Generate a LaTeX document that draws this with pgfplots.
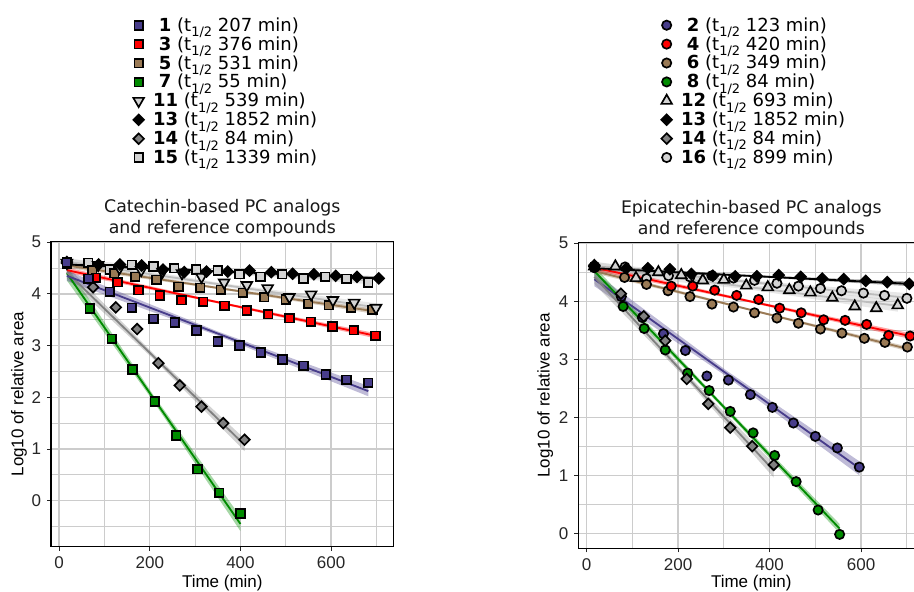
\documentclass[border=0pt]{standalone}
\usepackage{fontspec}
\setmainfont{DejaVu Sans}
\newfontfamily\arialf{Liberation Sans}
\usepackage{pgfplots}
\pgfplotsset{compat=1.18}
\definecolor{cpur}{HTML}{483D8B}
\definecolor{cred}{HTML}{FF0000}
\definecolor{cbrn}{HTML}{9A7A55}
\definecolor{cgrn}{HTML}{008B00}
\definecolor{cgry}{HTML}{808080}
\definecolor{clgt}{HTML}{D3D3D3}
\definecolor{clgl}{HTML}{BDBDBD}
\newcommand{\thalf}[1]{(t\raisebox{-0.3em}{\fontsize{7.8}{8}\selectfont 1/2}~#1~min)}
\newcommand{\one}{\hspace*{0.32em}}

\pgfplotsset{
  panel/.style={
    scale only axis, anchor=south west,
    xmin=-18, xmax=738,
    xtick={0,200,400,600}, minor xtick={100,300,500,700},
    grid=both,
    major grid style={black!20, line width=0.8pt},
    minor grid style={black!20, line width=0.6pt},
    minor tick length=0pt, major tick length=2.4pt,
    tick align=outside, tick pos=left,
    tick style={black!85, line width=0.6pt},
    axis line style={black, line width=0.7pt},
    ticklabel style={font=\arialf\fontsize{10.2}{12}\selectfont, text=black!85},
    /pgf/number format/assume math mode=true,
    label style={font=\arialf\fontsize{10.2}{12}\selectfont},
    xlabel={Time (min)}, ylabel={Log10 of relative area},
    title style={font=\fontsize{10.4}{13}\selectfont, align=center, text=black!90,
      at={(axis description cs:0.5,1)}, anchor=south, yshift=-3.6pt, inner sep=0pt},
    legend cell align=left,
    legend image code/.code={\draw[##1] plot coordinates {(0pt,0pt)};},
    legend style={draw=none, fill=none, inner sep=0pt, row sep=0pt,
      font=\fontsize{10.8}{12}\selectfont,
      nodes={inner sep=0pt, text height=9.2pt, text depth=2.14pt},
      /tikz/every odd column/.append style={column sep=5.5pt}},
  },
  sq/.style={only marks, mark=square*, mark size=2.6pt, mark options={draw=black, fill=#1, line width=1pt}},
  ci/.style={only marks, mark=*, mark size=2.8pt, mark options={draw=black, fill=#1, line width=1pt}},
  di/.style={only marks, mark=square*, mark size=2.25pt, mark options={draw=black, fill=#1, line width=1pt, rotate=45}},
  tu/.style={only marks, mark=triangle*, mark size=3.7pt, mark options={draw=black, fill=#1, line width=1pt}},
  td/.style={only marks, mark=triangle*, mark size=3.7pt, mark options={draw=black, fill=#1, line width=1pt, rotate=180}},
  fit/.style={draw=#1, line width=1.1pt, no marks},
  band/.style={fill=#1, fill opacity=0.35, draw=none, no marks},
}

\begin{document}
\begin{tikzpicture}
% ---------------- left panel: catechin ----------------
\begin{axis}[panel, at={(30.6pt,26.58pt)}, width=205.6pt, height=183pt,
  ymin=-0.89, ymax=5.01, ytick={0,1,2,3,4,5}, minor ytick={-0.5,0.5,1.5,2.5,3.5,4.5},
  title={Catechin-based PC analogs\\and reference compounds},
  xlabel style={at={(axis description cs:0.5,-0.118)}, anchor=center},
  ylabel style={at={(axis description cs:-0.0934,0.5)}, anchor=center},
  legend style={at={(0.2393,1.7415)}, anchor=north west}]
\addlegendimage{sq=cpur}\addlegendentry{\one\textbf{1} \thalf{207}}
\addlegendimage{sq=cred}\addlegendentry{\one\textbf{3} \thalf{376}}
\addlegendimage{sq=cbrn}\addlegendentry{\one\textbf{5} \thalf{531}}
\addlegendimage{sq=cgrn}\addlegendentry{\one\textbf{7} \thalf{55}}
\addlegendimage{td=clgt}\addlegendentry{\textbf{11} \thalf{539}}
\addlegendimage{di=black}\addlegendentry{\textbf{13} \thalf{1852}}
\addlegendimage{di=cgry}\addlegendentry{\textbf{14} \thalf{84}}
\addlegendimage{sq=clgt}\addlegendentry{\textbf{15} \thalf{1339}}
% confidence bands
\addplot[band=clgl, forget plot] coordinates {(17,4.67)(349.5,4.46)(682,4.33)(682,4.19)(349.5,4.40)(17,4.53)};
\addplot[band=clgl, forget plot] coordinates {(17,4.70)(358,4.21)(699,3.82)(699,3.66)(358,4.15)(17,4.54)};
\addplot[band=cbrn, forget plot] coordinates {(17,4.60)(354,4.13)(691,3.72)(691,3.62)(354,4.09)(17,4.50)};
\addplot[band=cred, forget plot] coordinates {(17,4.51)(357.5,3.845)(698,3.24)(698,3.14)(357.5,3.805)(17,4.41)};
\addplot[band=black, forget plot] coordinates {(17,4.61)(361,4.45)(705,4.34)(705,4.26)(361,4.42)(17,4.53)};
\addplot[band=cgrn, forget plot] coordinates {(17,4.54)(208.5,2.035)(400,-0.31)(400,-0.59)(208.5,1.915)(17,4.26)};
\addplot[band=cgry, forget plot] coordinates {(17,4.54)(213,2.80)(409,1.20)(409,0.96)(213,2.70)(17,4.30)};
\addplot[band=cpur, forget plot] coordinates {(17,4.45)(349.5,3.275)(682,2.22)(682,2.02)(349.5,3.195)(17,4.25)};
% fitted lines
\addplot[fit=clgl, forget plot] coordinates {(17,4.60)(682,4.26)};
\addplot[fit=clgl, forget plot] coordinates {(17,4.62)(699,3.74)};
\addplot[fit=cbrn, forget plot] coordinates {(17,4.55)(691,3.67)};
\addplot[fit=cred, forget plot] coordinates {(17,4.46)(698,3.19)};
\addplot[fit=black, forget plot] coordinates {(17,4.57)(705,4.30)};
\addplot[fit=cgrn, forget plot] coordinates {(17,4.40)(400,-0.45)};
\addplot[fit=cgry, forget plot] coordinates {(17,4.42)(409,1.08)};
\addplot[fit=cpur, forget plot] coordinates {(17,4.35)(682,2.12)};
% points
\addplot[sq=clgt, forget plot] coordinates {(17,4.6)(64,4.60)(112,4.47)(160,4.56)(208,4.53)(254,4.50)(302,4.47)(350,4.45)(398,4.38)(444,4.33)(492,4.38)(539,4.30)(587,4.33)(634,4.29)(682,4.22)};
\addplot[sq=cbrn, forget plot] coordinates {(17,4.58)(73,4.45)(121,4.40)(168,4.33)(215,4.27)(263,4.14)(311,4.12)(357,4.08)(405,4.02)(452,3.94)(500,3.89)(549,3.81)(595,3.78)(644,3.74)(691,3.69)};
\addplot[td=clgt, forget plot] coordinates {(17,4.6)(86,4.56)(133,4.50)(181,4.46)(228,4.43)(271,4.40)(314,4.33)(364,4.22)(414,4.17)(460,4.11)(508,3.94)(556,3.99)(604,3.88)(651,3.83)(699,3.73)};
\addplot[sq=cred, forget plot] coordinates {(17,4.58)(81,4.31)(129,4.23)(175,4.07)(222,3.97)(270,3.88)(318,3.85)(365,3.77)(414,3.68)(461,3.61)(508,3.53)(555,3.46)(603,3.37)(650,3.30)(698,3.19)};
\addplot[di=black, forget plot] coordinates {(17,4.62)(87,4.57)(134,4.57)(182,4.55)(229,4.47)(276,4.42)(325,4.43)(372,4.43)(420,4.45)(468,4.42)(515,4.39)(562,4.38)(610,4.35)(657,4.33)(705,4.30)};
\addplot[sq=cgrn, forget plot] coordinates {(17,4.6)(68,3.72)(116,3.13)(162,2.54)(211,1.92)(258,1.26)(305,0.61)(353,0.15)(400,-0.25)};
\addplot[di=cgry, forget plot] coordinates {(17,4.6)(75,4.13)(125,3.74)(172,3.32)(219,2.66)(266,2.23)(314,1.82)(362,1.50)(409,1.18)};
\addplot[sq=cpur, forget plot] coordinates {(17,4.61)(65,4.29)(112,4.04)(160,3.73)(208,3.52)(255,3.45)(303,3.29)(350,3.08)(398,3.00)(445,2.87)(493,2.73)(539,2.61)(588,2.44)(634,2.34)(682,2.28)};
\end{axis}
% ---------------- right panel: epicatechin ----------------
\begin{axis}[panel, at={(346.98pt,25.62pt)}, width=207.6pt, height=183.4pt,
  ymin=-0.26, ymax=5.01, ytick={0,1,2,3,4,5}, minor ytick={0.5,1.5,2.5,3.5,4.5},
  title={Epicatechin-based PC analogs\\and reference compounds},
  xlabel style={at={(axis description cs:0.5,-0.1126)}, anchor=center},
  ylabel style={at={(axis description cs:-0.0954,0.5)}, anchor=center},
  legend style={at={(0.239,1.7433)}, anchor=north west}]
\addlegendimage{ci=cpur}\addlegendentry{\one\textbf{2} \thalf{123}}
\addlegendimage{ci=cred}\addlegendentry{\one\textbf{4} \thalf{420}}
\addlegendimage{ci=cbrn}\addlegendentry{\one\textbf{6} \thalf{349}}
\addlegendimage{ci=cgrn}\addlegendentry{\one\textbf{8} \thalf{84}}
\addlegendimage{tu=clgt}\addlegendentry{\textbf{12} \thalf{693}}
\addlegendimage{di=black}\addlegendentry{\textbf{13} \thalf{1852}}
\addlegendimage{di=cgry}\addlegendentry{\textbf{14} \thalf{84}}
\addlegendimage{ci=clgt}\addlegendentry{\textbf{16} \thalf{899}}
% confidence bands
\addplot[band=clgl, forget plot] coordinates {(17,4.68)(358.5,4.36)(700,4.14)(700,3.98)(358.5,4.30)(17,4.52)};
\addplot[band=clgl, forget plot] coordinates {(17,4.68)(348.5,4.29)(680,4.02)(680,3.82)(348.5,4.21)(17,4.48)};
\addplot[band=cbrn, forget plot] coordinates {(17,4.56)(359,3.865)(701,3.22)(701,3.14)(359,3.835)(17,4.48)};
\addplot[band=cred, forget plot] coordinates {(17,4.63)(362,4.01)(707,3.45)(707,3.35)(362,3.97)(17,4.53)};
\addplot[band=cpur, forget plot] coordinates {(17,4.50)(306.5,2.80)(596,1.24)(596,1.00)(306.5,2.70)(17,4.26)};
\addplot[band=cgrn, forget plot] coordinates {(17,4.60)(285,2.335)(553,0.16)(553,0.00)(285,2.265)(17,4.44)};
\addplot[band=cgry, forget plot] coordinates {(17,4.54)(213,2.80)(409,1.20)(409,0.96)(213,2.70)(17,4.30)};
\addplot[band=black, forget plot] coordinates {(17,4.61)(361,4.45)(705,4.34)(705,4.26)(361,4.42)(17,4.53)};
% fitted lines
\addplot[fit=clgl, forget plot] coordinates {(17,4.60)(700,4.06)};
\addplot[fit=clgl, forget plot] coordinates {(17,4.58)(680,3.92)};
\addplot[fit=cbrn, forget plot] coordinates {(17,4.52)(701,3.18)};
\addplot[fit=cred, forget plot] coordinates {(17,4.58)(707,3.40)};
\addplot[fit=cpur, forget plot] coordinates {(17,4.38)(596,1.12)};
\addplot[fit=cgrn, forget plot] coordinates {(17,4.52)(553,0.08)};
\addplot[fit=cgry, forget plot] coordinates {(17,4.42)(409,1.08)};
\addplot[fit=black, forget plot] coordinates {(17,4.57)(705,4.30)};
% points
\addplot[ci=clgt, forget plot] coordinates {(17,4.6)(84,4.59)(131,4.39)(179,4.44)(226,4.42)(274,4.44)(321,4.40)(367,4.36)(416,4.31)(463,4.26)(511,4.22)(557,4.18)(605,4.14)(651,4.10)(700,4.05)};
\addplot[tu=clgt, forget plot] coordinates {(17,4.6)(63,4.60)(108,4.40)(157,4.50)(207,4.45)(254,4.36)(300,4.37)(349,4.27)(396,4.24)(443,4.19)(489,4.15)(537,4.06)(586,3.91)(633,3.88)(680,3.93)};
\addplot[ci=cbrn, forget plot] coordinates {(17,4.58)(83,4.41)(131,4.29)(178,4.18)(226,4.08)(274,3.95)(321,3.90)(367,3.80)(416,3.71)(463,3.62)(511,3.52)(558,3.45)(607,3.36)(652,3.29)(701,3.21)};
\addplot[ci=cred, forget plot] coordinates {(17,4.60)(185,4.26)(232,4.26)(280,4.19)(328,4.10)(376,4.03)(422,3.88)(469,3.80)(518,3.68)(565,3.67)(612,3.60)(660,3.41)(707,3.40)};
\addplot[ci=cpur, forget plot] coordinates {(17,4.58)(76,4.08)(122,3.72)(168,3.44)(216,3.15)(263,2.71)(310,2.64)(358,2.39)(406,2.17)(452,1.90)(500,1.67)(548,1.47)(596,1.14)};
\addplot[ci=cgrn, forget plot] coordinates {(17,4.6)(80,3.91)(126,3.53)(172,3.16)(221,2.76)(268,2.46)(314,2.10)(364,1.73)(411,1.34)(458,0.89)(506,0.40)(553,-0.02)};
\addplot[di=cgry, forget plot] coordinates {(17,4.6)(75,4.13)(125,3.74)(172,3.32)(219,2.66)(266,2.23)(314,1.82)(362,1.50)(409,1.18)};
\addplot[di=black, forget plot] coordinates {(17,4.62)(87,4.57)(134,4.57)(182,4.55)(229,4.47)(276,4.44)(325,4.43)(372,4.43)(420,4.45)(468,4.42)(515,4.39)(562,4.38)(610,4.35)(657,4.33)(705,4.30)};
\end{axis}
\pgfresetboundingbox
\useasboundingbox (0pt,0pt) rectangle (548.4pt,354.6pt);
\end{tikzpicture}
\end{document}
